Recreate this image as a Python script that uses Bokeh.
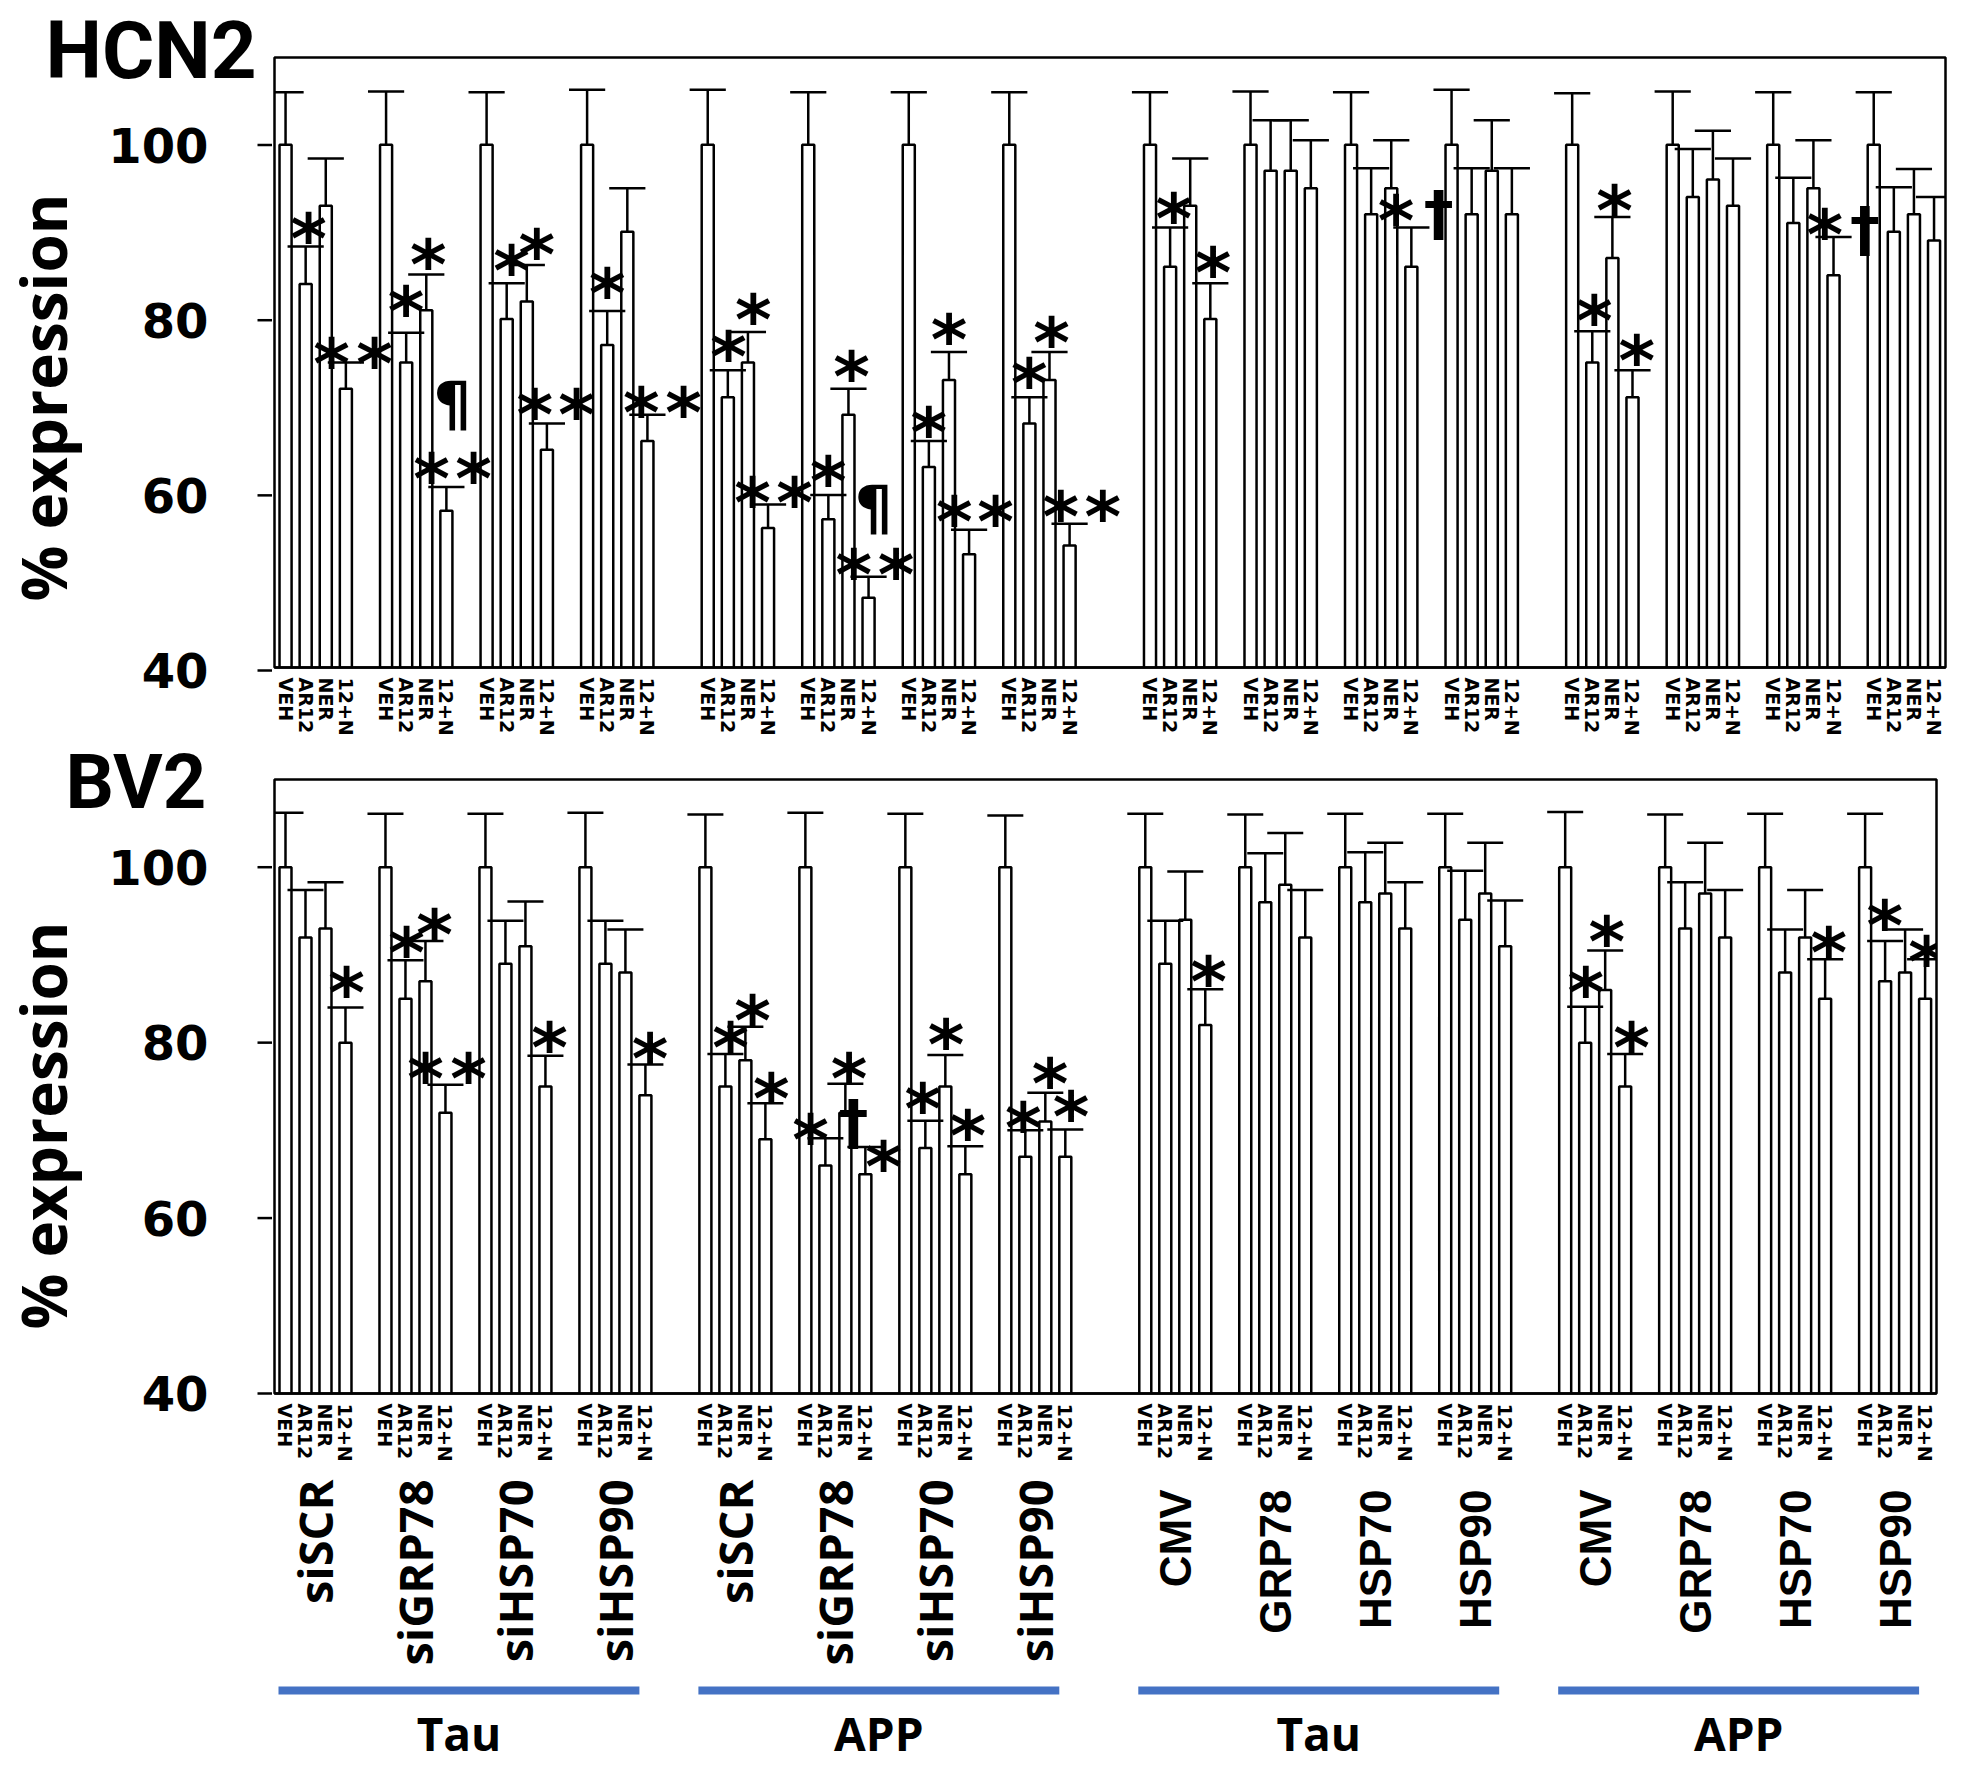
import numpy as np
from bokeh.plotting import figure
from bokeh.models import FixedTicker, ColumnDataSource, Range1d, Spacer
from bokeh.layouts import column, row
from bokeh.embed import file_html
from bokeh.resources import INLINE
from bokeh.core.properties import value

# ---------------- data ----------------
treatments = ["VEH", "AR12", "NER", "12+N"]
constructs = ["siSCR", "siGRP78", "siHSP70", "siHSP90",
              "siSCR", "siGRP78", "siHSP70", "siHSP90",
              "CMV", "GRP78", "HSP70", "HSP90",
              "CMV", "GRP78", "HSP70", "HSP90"]
cell_models = ["Tau", "APP", "Tau", "APP"]
y_ticks = [40, 60, 80, 100]
panel_titles = ["HCN2", "BV2"]
y_title = "% expression"

hcn2_mean = [100, 84, 93, 72,   100, 75, 81, 58,   100, 80, 82, 65,   100, 77, 90, 66,
             100, 71, 75, 56,   100, 57, 69, 48,   100, 63, 73, 53,   100, 68, 73, 54,
             100, 86, 93, 80,   100, 97, 97, 95,   100, 92, 95, 86,   100, 92, 97, 92,
             100, 75, 87, 71,   100, 94, 96, 93,   100, 91, 95, 85,   100, 90, 92, 89]
hcn2_err = [6.0, 4.3, 5.4, 3.0,   6.1, 3.4, 4.1, 2.7,   6.0, 4.1, 4.2, 3.0,   6.3, 3.9, 5.0, 3.0,
            6.3, 3.1, 3.5, 2.7,   6.0, 2.8, 3.0, 2.4,   6.0, 3.0, 3.2, 2.8,   6.0, 3.0, 3.2, 2.5,
            6.0, 4.5, 5.4, 4.1,   6.1, 5.8, 5.8, 5.5,   6.0, 5.3, 5.5, 4.5,   6.3, 5.3, 5.8, 5.3,
            5.9, 3.6, 4.7, 3.1,   6.1, 5.5, 5.6, 5.4,   6.0, 5.2, 5.5, 4.4,   6.0, 5.1, 5.2, 5.0]

bv2_mean = [100, 92, 93, 80,   100, 85, 87, 72,   100, 89, 91, 75,   100, 89, 88, 74,
            100, 75, 78, 69,   100, 66, 72, 65,   100, 68, 75, 65,   100, 67, 71, 67,
            100, 89, 94, 82,   100, 96, 98, 92,   100, 96, 97, 93,   100, 94, 97, 91,
            100, 80, 86, 75,   100, 93, 97, 92,   100, 88, 92, 85,   100, 87, 88, 85]
bv2_err = [6.2, 5.4, 5.3, 4.0,   6.1, 4.4, 4.6, 3.2,   6.1, 4.9, 5.1, 3.5,   6.2, 4.9, 4.9, 3.5,
           6.0, 3.7, 3.8, 4.1,   6.2, 3.1, 3.3, 3.1,   6.1, 3.1, 3.6, 3.2,   5.9, 3.0, 3.3, 3.1,
           6.1, 4.9, 5.5, 4.1,   6.0, 5.6, 5.9, 5.4,   6.1, 5.7, 5.8, 5.3,   6.1, 5.6, 5.8, 5.2,
           6.3, 4.1, 4.5, 3.7,   6.0, 5.3, 5.8, 5.4,   6.1, 4.9, 5.4, 4.5,   6.1, 4.6, 4.9, 4.5]

# significance marks: (group, treatment, x shift in bar slots, y value, symbol)
hcn2_marks = [
    (0, 1, 0.15, 90.8, "*"), (0, 3, -0.71, 76.5, "*"), (0, 3, 1.43, 76.5, "*"),
    (1, 1, 0.0, 82.5, "*"), (1, 2, 0.1, 87.9, "*"), (1, 3, -0.74, 63.3, "*"), (1, 3, 1.35, 63.3, "*"),
    (1, 3, 0.3, 70.2, "¶"),
    (2, 1, 0.24, 87.2, "*"), (2, 2, 0.5, 89.0, "*"), (2, 3, -0.6, 70.7, "*"), (2, 3, 1.48, 70.7, "*"),
    (3, 1, 0.0, 84.5, "*"), (3, 3, -0.31, 70.9, "*"), (3, 3, 1.8, 70.9, "*"),
    (4, 1, 0.04, 77.3, "*"), (4, 2, 0.27, 81.6, "*"), (4, 3, -0.77, 60.5, "*"), (4, 3, 1.32, 60.5, "*"),
    (5, 1, 0.0, 63.0, "*"), (5, 2, 0.16, 75.0, "*"), (5, 3, -0.74, 52.3, "*"), (5, 3, 1.37, 52.3, "*"),
    (5, 3, 0.25, 58.3, "¶"),
    (6, 1, 0.0, 68.6, "*"), (6, 2, 0.0, 79.3, "*"), (6, 3, -0.74, 58.4, "*"), (6, 3, 1.32, 58.4, "*"),
    (7, 1, 0.0, 74.2, "*"), (7, 2, 0.1, 78.9, "*"), (7, 3, -0.44, 59.0, "*"), (7, 3, 1.65, 59.0, "*"),
    (8, 1, 0.18, 93.1, "*"), (8, 3, 0.14, 87.0, "*"),
    (10, 3, -0.76, 92.9, "*"), (10, 3, 1.36, 92.1, "†"),
    (12, 1, 0.1, 81.4, "*"), (12, 2, 0.11, 94.1, "*"), (12, 3, 0.21, 76.8, "*"),
    (14, 3, -0.44, 91.3, "*"), (14, 3, 1.56, 90.3, "†"),
]
bv2_marks = [
    (0, 3, 0.05, 87.3, "*"),
    (1, 1, 0.05, 91.9, "*"), (1, 2, 0.45, 94.0, "*"), (1, 3, -1.0, 77.5, "*"), (1, 3, 1.15, 77.5, "*"),
    (2, 3, 0.2, 81.1, "*"),
    (3, 3, 0.23, 79.8, "*"),
    (4, 1, 0.26, 81.1, "*"), (4, 2, 0.36, 84.2, "*"), (4, 3, 0.29, 75.2, "*"),
    (5, 1, -0.74, 70.6, "*"), (5, 2, 0.19, 77.5, "*"), (5, 2, 0.41, 71.0, "†"), (5, 3, 0.91, 67.5, "*"),
    (6, 1, -0.13, 74.1, "*"), (6, 2, 0.04, 81.4, "*"), (6, 3, 0.12, 71.0, "*"),
    (7, 1, -0.1, 71.9, "*"), (7, 2, 0.24, 77.0, "*"), (7, 3, 0.29, 73.2, "*"),
    (8, 3, 0.17, 88.6, "*"),
    (12, 1, 0.03, 87.3, "*"), (12, 2, 0.08, 93.2, "*"), (12, 3, 0.32, 81.1, "*"),
    (14, 3, 0.19, 91.9, "*"),
    (15, 1, -0.01, 95.0, "*"), (15, 3, 0.07, 90.9, "*"),
]

# ---------------- layout helpers ----------------
SG_START = [0, 21, 43, 64]          # first bar slot of each block of four constructs
X0, X1 = -0.55, 82.57
Y0, Y1 = 40, 110
LEFT_W = 272                        # width of the left strip (titles, y tick labels)
MAIN_W = 1685
TICK_LEN = 15

BOLD_NUM = "DejaVu Sans"
SANS = "Open Sans"
TITLE_FONT = "Roboto"
SYM_SIZE = {"*": 70, "¶": 60, "†": 60}
SYM_K = {"*": 0.21, "¶": 0.0, "†": 0.0}   # glyph centre offset from the text middle (em)


def slot(group, t):
    return SG_START[group // 4] + 5 * (group % 4) + t


bar_x = [slot(g, t) for g in range(16) for t in range(4)]
bar_labels = {slot(g, t): treatments[t] for g in range(16) for t in range(4)}


def plain(p):
    p.xgrid.visible = False
    p.ygrid.visible = False
    p.background_fill_color = "white"
    p.border_fill_color = "white"


def make_panel(mean, err, marks, height, br, bt, bb):
    p = figure(width=MAIN_W, height=height, x_range=Range1d(X0, X1), y_range=Range1d(Y0, Y1),
               output_backend="svg", toolbar_location=None, y_axis_location=None,
               min_border_left=2, min_border_right=br, min_border_top=bt, min_border_bottom=bb,
               frame_align=False)
    plain(p)
    p.outline_line_color = "black"
    p.outline_line_width = 2.5

    sy = (height - bt - bb) / (Y1 - Y0)

    mean_a = np.array(mean, dtype=float)
    top_a = mean_a + np.array(err, dtype=float)
    xs = np.array(bar_x, dtype=float)
    src = ColumnDataSource(dict(x=xs, top=mean_a, etop=top_a))
    p.vbar(x="x", top="top", bottom=Y0, width=0.6, source=src,
           fill_color="white", line_color="black", line_width=2.5)
    p.segment(x0="x", y0="top", x1="x", y1="etop", source=src, line_color="black", line_width=2.5)
    cap = ColumnDataSource(dict(x0=xs - 0.9, x1=xs + 0.9, y=top_a))
    p.segment(x0="x0", y0="y", x1="x1", y1="y", source=cap, line_color="black", line_width=2.5)

    for sym in ["*", "¶", "†"]:
        sel = [m for m in marks if m[4] == sym]
        if not sel:
            continue
        size = SYM_SIZE[sym]
        mx = [slot(m[0], m[1]) + m[2] for m in sel]
        my = [m[3] - SYM_K[sym] * size / sy for m in sel]
        p.text(x=mx, y=my, text=[sym] * len(sel), text_align="center", text_baseline="middle",
               text_font=value(BOLD_NUM), text_font_style="bold", text_font_size=f"{size}px",
               text_color="black")

    p.xaxis.ticker = FixedTicker(ticks=bar_x)
    p.xaxis.major_label_overrides = bar_labels
    p.xaxis.major_label_orientation = "vertical"
    p.xaxis.minor_tick_line_color = None
    p.xaxis.major_tick_line_color = None
    p.xaxis.major_tick_out = 0
    p.xaxis.major_tick_in = 0
    p.xaxis.axis_line_width = 2.5
    p.xaxis.major_label_standoff = 10
    p.xaxis.major_label_text_font = BOLD_NUM
    p.xaxis.major_label_text_font_style = "bold"
    p.xaxis.major_label_text_font_size = "19px"
    p.xaxis.major_label_text_color = "black"
    return p


def make_left(height, bt, bb, title, title_x, title_mid, title_size, ylab_mid):
    """Left strip: panel title, y title, y tick marks and y tick labels (pixel coordinates)."""
    p = figure(width=LEFT_W, height=height, x_range=Range1d(0, LEFT_W), y_range=Range1d(0, height),
               output_backend="svg", toolbar_location=None, x_axis_type=None, y_axis_type=None,
               min_border=0, frame_align=False)
    plain(p)
    p.outline_line_color = None
    sy = (height - bt - bb) / (Y1 - Y0)
    ty = [bb + (v - Y0) * sy for v in y_ticks]
    p.segment(x0=[LEFT_W - TICK_LEN] * len(ty), y0=ty, x1=[LEFT_W] * len(ty), y1=ty,
              line_color="black", line_width=2.5)
    p.text(x=[208] * len(ty), y=ty, text=[str(v) for v in y_ticks], text_align="right",
           text_baseline="middle", text_font=value(BOLD_NUM), text_font_style="bold",
           text_font_size="48px", text_color="black")
    p.text(x=[title_x], y=[height - title_mid], text=[title], text_align="left",
           text_baseline="middle", text_font=value(TITLE_FONT), text_font_style="bold",
           text_font_size=f"{title_size}px", text_color="black")
    p.text(x=[42], y=[height - ylab_mid], text=[y_title], angle=np.pi / 2, text_align="center",
           text_baseline="middle", text_font=value(SANS), text_font_style="bold",
           text_font_size="62px", text_color="black")
    return p


# row 1: page y 0..738, frame 57..670
H1, H2, H3 = 738, 737, 287
ROW2_TOP = H1
p1 = make_panel(hcn2_mean, hcn2_err, hcn2_marks, H1, br=12, bt=57, bb=68)
l1 = make_left(H1, 57, 68, panel_titles[0], 45, 50, 80, 397)
# row 2: page y 738..1475, frame 779..1393
p2 = make_panel(bv2_mean, bv2_err, bv2_marks, H2, br=21, bt=779 - ROW2_TOP, bb=82)
l2 = make_left(H2, 779 - ROW2_TOP, 82, panel_titles[1], 65, 781 - ROW2_TOP, 76, 1125 - ROW2_TOP)

# ---------------- bottom label strip: page y 1475..1762 ----------------
ROW3_TOP = H1 + H2
p3 = figure(width=MAIN_W, height=H3, x_range=Range1d(X0, X1), y_range=Range1d(0, H3),
            output_backend="svg", toolbar_location=None, x_axis_type=None, y_axis_type=None,
            min_border_left=2, min_border_right=21, min_border_top=0, min_border_bottom=0,
            frame_align=False)
plain(p3)
p3.outline_line_color = None


def y3(page_y):
    return H3 - (page_y - ROW3_TOP)


centers = [SG_START[g // 4] + 5 * (g % 4) + 1.5 for g in range(16)]
p3.text(x=[centers[i] for i in range(8)], y=[y3(1479)] * 8,
        text=constructs[:8], angle=np.pi / 2, text_align="right",
        text_baseline="middle", text_font=value(SANS), text_font_style="bold",
        text_font_size="47px", text_color="black")
p3.text(x=[centers[i] for i in range(8, 16)], y=[y3(1489)] * 8,
        text=constructs[8:], angle=np.pi / 2, text_align="right",
        text_baseline="middle", text_font=value("Liberation Sans"), text_font_style="bold",
        text_font_size="44px", text_color="black")

line_x0 = [SG_START[s] - 0.35 for s in range(4)]
line_x1 = [SG_START[s] + 18 - 0.3 for s in range(4)]
p3.segment(x0=line_x0, y0=[y3(1690)] * 4, x1=line_x1, y1=[y3(1690)] * 4,
           line_color="#4472C4", line_width=8)
p3.text(x=[(a + b) / 2 for a, b in zip(line_x0, line_x1)], y=[y3(1732)] * 4,
        text=cell_models, text_align="center", text_baseline="middle",
        text_font=value(SANS), text_font_style="bold", text_font_size="46px", text_color="black")

layout = column(row(l1, p1, spacing=0), row(l2, p2, spacing=0),
                row(Spacer(width=LEFT_W, height=H3), p3, spacing=0), spacing=0)
open("out.html", "w").write(file_html(layout, INLINE))
